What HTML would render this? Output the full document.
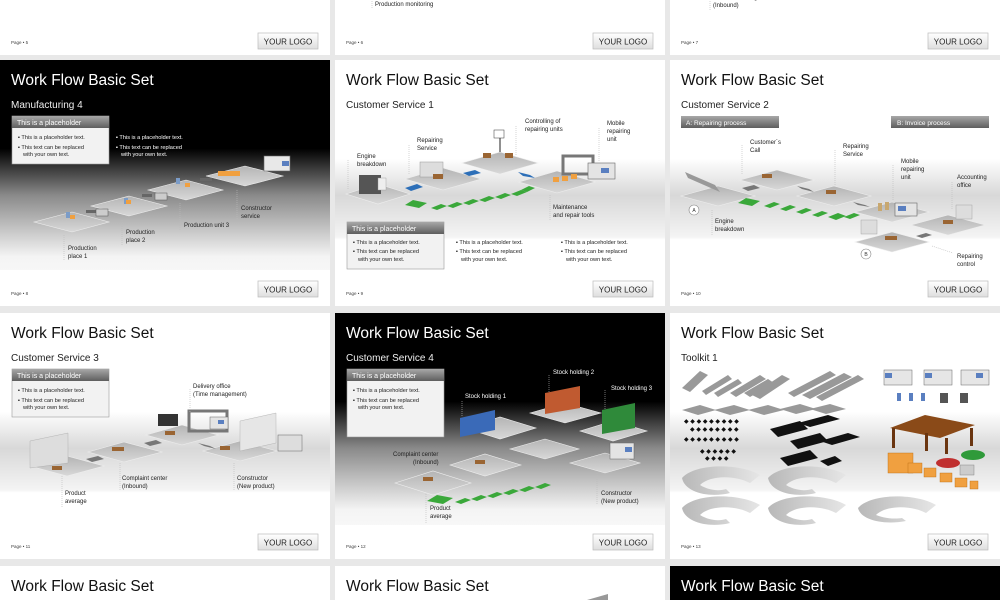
<!DOCTYPE html>
<html><head><meta charset="utf-8"><style>
html,body{margin:0;padding:0;background:#e8e8e8;width:1000px;height:600px;overflow:hidden;}
svg{display:block;font-family:"Liberation Sans",Arial,sans-serif;overflow:hidden;}
</style></head><body>
<svg width="1000" height="600" viewBox="0 0 1000 600" xmlns="http://www.w3.org/2000/svg">
<defs>
<clipPath id="pg"><rect width="1000" height="600"/></clipPath>
<linearGradient id="band" x1="0" y1="0" x2="0" y2="1">
<stop offset="0" stop-color="#fff"/><stop offset="0.4" stop-color="#fff"/><stop offset="0.55" stop-color="#d8d8d8"/><stop offset="0.72" stop-color="#f4f4f4"/><stop offset="0.73" stop-color="#fff"/><stop offset="1" stop-color="#fff"/>
</linearGradient>
<linearGradient id="dark" x1="0" y1="0" x2="0" y2="1">
<stop offset="0" stop-color="#000"/><stop offset="0.36" stop-color="#000"/><stop offset="0.55" stop-color="#8a8a8a"/><stop offset="0.8" stop-color="#f4f4f4"/><stop offset="1" stop-color="#fff"/>
</linearGradient>
<linearGradient id="hdr" x1="0" y1="0" x2="0" y2="1"><stop offset="0" stop-color="#a8a8a8"/><stop offset="1" stop-color="#5e5e5e"/></linearGradient>
<linearGradient id="logo" x1="0" y1="0" x2="0" y2="1"><stop offset="0" stop-color="#fff"/><stop offset="1" stop-color="#dedede"/></linearGradient>
<linearGradient id="tile" x1="0" y1="0" x2="0" y2="1"><stop offset="0" stop-color="#b4b4b4"/><stop offset="1" stop-color="#d8d8d8"/></linearGradient>
<linearGradient id="arc" x1="0" y1="0" x2="1" y2="0"><stop offset="0" stop-color="#b8b8b8"/><stop offset="1" stop-color="#e6e6e6"/></linearGradient>
</defs>
<g clip-path="url(#pg)">

<!-- ROW 1 (partial) -->
<g transform="translate(0,-191)">
<rect width="330" height="246" fill="#fff"/>
<text x="11" y="235" font-size="4.5" fill="#444">Page • 5</text>
<rect x="258" y="224" width="60" height="16" fill="url(#logo)" stroke="#bbb" stroke-width="0.7"/><text x="288" y="235.5" font-size="8" text-anchor="middle" fill="#222">YOUR LOGO</text>
</g>
<g transform="translate(335,-191)">
<rect width="330" height="246" fill="#fff"/>
<line x1="37" y1="188" x2="37" y2="200" stroke="#bbb" stroke-dasharray="1,1" stroke-width="0.6"/>
<text x="40" y="197" font-size="6" fill="#222">Production monitoring</text>
<text x="131" y="191" font-size="6" fill="#222">Production unit 4</text>
<text x="11" y="235" font-size="4.5" fill="#444">Page • 6</text>
<rect x="258" y="224" width="60" height="16" fill="url(#logo)" stroke="#bbb" stroke-width="0.7"/><text x="288" y="235.5" font-size="8" text-anchor="middle" fill="#222">YOUR LOGO</text>
</g>
<g transform="translate(670,-191)">
<rect width="330" height="246" fill="#fff"/>
<line x1="40" y1="186" x2="40" y2="202" stroke="#bbb" stroke-dasharray="1,1" stroke-width="0.6"/>
<text x="43" y="190" font-size="6" fill="#222">Product ordering</text>
<text x="43" y="198" font-size="6" fill="#222">(Inbound)</text>
<text x="11" y="235" font-size="4.5" fill="#444">Page • 7</text>
<rect x="258" y="224" width="60" height="16" fill="url(#logo)" stroke="#bbb" stroke-width="0.7"/><text x="288" y="235.5" font-size="8" text-anchor="middle" fill="#222">YOUR LOGO</text>
</g>

<!-- ROW 2 -->
<g transform="translate(0,60)">
<rect width="330" height="246" fill="url(#dark)"/>
<rect x="0" y="210" width="330" height="36" fill="#fff"/>
<text x="11" y="25" font-size="15.5" fill="#fff">Work Flow Basic Set</text>
<text x="11" y="48" font-size="10" fill="#eee">Manufacturing 4</text>
<rect x="12" y="56" width="97" height="48" fill="#f2f2f2" stroke="#999" stroke-width="0.6"/>
<rect x="12" y="56" width="97" height="12" fill="url(#hdr)"/>
<text x="17" y="65" font-size="7" fill="#fff">This is a placeholder</text>
<g font-size="5.6" fill="#222"><text x="18" y="79">▪  This is a placeholder text.</text><text x="18" y="89">▪  This text can be replaced</text><text x="23" y="96">with your own text.</text></g>
<g font-size="5.6" fill="#fff"><text x="116" y="79">▪  This is a placeholder text.</text><text x="116" y="89">▪  This text can be replaced</text><text x="121" y="96">with your own text.</text></g>
<g fill="url(#tile)" stroke="#eee" stroke-width="0.6">
<polygon points="34,162 72,152 109,162 72,172"/>
<polygon points="91,146 129,136 167,146 129,156"/>
<polygon points="148,130 186,120 223,130 186,140"/>
<polygon points="206,116 245,106 283,116 245,126"/>
</g>
<g fill="#666"><rect x="86" y="150" width="10" height="3"/><rect x="142" y="134" width="10" height="3"/><rect x="200" y="118" width="12" height="3"/></g>
<g fill="#7b9cc8"><rect x="66" y="152" width="4" height="6"/><rect x="124" y="138" width="4" height="6"/><rect x="176" y="118" width="4" height="6"/></g>
<g fill="#f0a040"><rect x="70" y="155" width="5" height="4"/><rect x="126" y="140" width="5" height="4"/><rect x="185" y="123" width="5" height="4"/><rect x="218" y="111" width="22" height="5"/></g>
<rect x="96" y="149" width="12" height="7" fill="#ccc" stroke="#555" stroke-width="0.5"/>
<rect x="155" y="133" width="12" height="7" fill="#ccc" stroke="#555" stroke-width="0.5"/>
<rect x="264" y="96" width="26" height="15" fill="#e8e8e8" stroke="#666" stroke-width="0.6"/><rect x="282" y="101" width="7" height="5" fill="#5a7fc0"/>
<g stroke="#bbb" stroke-dasharray="1,1" stroke-width="0.6"><line x1="64" y1="175" x2="64" y2="200"/><line x1="122" y1="160" x2="122" y2="185"/><line x1="180" y1="143" x2="180" y2="170"/><line x1="237" y1="130" x2="237" y2="160"/></g>
<g font-size="6" fill="#222"><text x="68" y="190">Production</text><text x="68" y="198">place 1</text><text x="126" y="174">Production</text><text x="126" y="182">place 2</text><text x="184" y="167">Production unit 3</text><text x="241" y="150">Constructor</text><text x="241" y="158">service</text></g>
<text x="11" y="235" font-size="4.5" fill="#444">Page • 8</text>
<rect x="258" y="221" width="60" height="16" fill="url(#logo)" stroke="#bbb" stroke-width="0.7"/><text x="288" y="232.5" font-size="8" text-anchor="middle" fill="#222">YOUR LOGO</text>
</g>

<g transform="translate(335,60)">
<rect width="330" height="246" fill="url(#band)"/>
<text x="11" y="25" font-size="15.5" fill="#111">Work Flow Basic Set</text>
<text x="11" y="48" font-size="10" fill="#222">Customer Service 1</text>
<g fill="url(#tile)" stroke="#eee" stroke-width="0.6">
<polygon points="11,134 43,124 75,134 43,144"/>
<polygon points="70,119 108,108 146,119 108,130"/>
<polygon points="127,103 165,92 203,103 165,114"/>
<polygon points="184,122 222,111 260,122 222,133"/>
</g>
<rect x="24" y="115" width="22" height="19" fill="#555"/><rect x="43" y="118" width="8" height="12" fill="#eee" stroke="#999" stroke-width="0.4"/>
<rect x="85" y="102" width="23" height="15" fill="#ddd" stroke="#999" stroke-width="0.5"/>
<rect x="98" y="114" width="10" height="5" fill="#9a6533"/>
<rect x="148" y="93" width="8" height="5" fill="#9a6533"/><rect x="170" y="93" width="8" height="5" fill="#9a6533"/>
<line x1="165" y1="75" x2="165" y2="92" stroke="#222" stroke-width="1"/><rect x="159" y="70" width="10" height="8" fill="#fff" stroke="#333" stroke-width="0.5"/>
<rect x="228" y="96" width="30" height="18" fill="none" stroke="#777" stroke-width="3"/>
<g fill="#f0a040"><rect x="218" y="117" width="6" height="5"/><rect x="227" y="116" width="6" height="5"/><rect x="236" y="114" width="6" height="5"/></g>
<rect x="253" y="103" width="27" height="16" fill="#e4e4e4" stroke="#666" stroke-width="0.6"/><rect x="266" y="108" width="8" height="5" fill="#5a7fc0"/>
<g fill="#2d6fb8"><polygon points="70,128 82,124 88,127 76,131"/><polygon points="128,113 140,110 146,113 134,116"/><polygon points="183,112 195,115 200,118 188,116"/></g>
<g fill="#3aa83a"><polygon points="70,145 78,140 92,143 84,148"/>
<polygon points="96,148 106,144 112,146 102,150"/><polygon points="112,146 122,142 128,144 118,148"/><polygon points="128,143 138,139 144,141 134,145"/><polygon points="144,140 154,136 160,138 150,142"/><polygon points="160,137 170,133 176,135 166,139"/><polygon points="176,134 186,130 192,132 182,136"/><polygon points="186,130 194,126 200,128 192,132"/></g>
<g stroke="#bbb" stroke-dasharray="1,1" stroke-width="0.6"><line x1="13" y1="100" x2="13" y2="130"/><line x1="74" y1="85" x2="74" y2="115"/><line x1="181" y1="66" x2="181" y2="95"/><line x1="264" y1="68" x2="264" y2="102"/><line x1="215" y1="135" x2="215" y2="160"/></g>
<g font-size="6" fill="#222"><text x="22" y="98">Engine</text><text x="22" y="106">breakdown</text><text x="82" y="82">Repairing</text><text x="82" y="90">Service</text><text x="190" y="63">Controlling of</text><text x="190" y="71">repairing units</text><text x="272" y="65">Mobile</text><text x="272" y="73">repairing</text><text x="272" y="81">unit</text><text x="218" y="149">Maintenance</text><text x="218" y="157">and repair tools</text></g>
<rect x="12" y="162" width="97" height="47" fill="#f2f2f2" stroke="#999" stroke-width="0.6"/>
<rect x="12" y="162" width="97" height="12" fill="url(#hdr)"/>
<text x="17" y="171" font-size="7" fill="#fff">This is a placeholder</text>
<g font-size="5.6" fill="#222"><text x="18" y="184">▪  This is a placeholder text.</text><text x="18" y="193">▪  This text can be replaced</text><text x="23" y="201">with your own text.</text>
<text x="121" y="184">▪  This is a placeholder text.</text><text x="121" y="193">▪  This text can be replaced</text><text x="126" y="201">with your own text.</text>
<text x="226" y="184">▪  This is a placeholder text.</text><text x="226" y="193">▪  This text can be replaced</text><text x="231" y="201">with your own text.</text></g>
<text x="11" y="235" font-size="4.5" fill="#444">Page • 9</text>
<rect x="258" y="221" width="60" height="16" fill="url(#logo)" stroke="#bbb" stroke-width="0.7"/><text x="288" y="232.5" font-size="8" text-anchor="middle" fill="#222">YOUR LOGO</text>
</g>

<g transform="translate(670,60)">
<rect width="330" height="246" fill="url(#band)"/>
<text x="11" y="25" font-size="15.5" fill="#111">Work Flow Basic Set</text>
<text x="11" y="48" font-size="10" fill="#222">Customer Service 2</text>
<rect x="11" y="56" width="98" height="12" fill="url(#hdr)"/><text x="16" y="65" font-size="6.5" fill="#fff">A: Repairing process</text>
<rect x="221" y="56" width="98" height="12" fill="url(#hdr)"/><text x="227" y="65" font-size="6.5" fill="#fff">B: Invoice process</text>
<g fill="url(#tile)" stroke="#eee" stroke-width="0.6">
<polygon points="11,136 48,126 85,136 48,146"/>
<polygon points="70,120 107,110 144,120 107,130"/>
<polygon points="127,136 164,126 201,136 164,146"/>
<polygon points="185,152 222,142 259,152 222,162"/>
<polygon points="241,165 278,155 315,165 278,175"/>
<polygon points="185,182 222,172 259,182 222,192"/>
</g>
<polygon points="15,112 45,125 50,132 18,118" fill="#999"/>
<g fill="#9a6533"><rect x="92" y="114" width="10" height="4"/><rect x="156" y="130" width="10" height="4"/><rect x="273" y="160" width="10" height="4"/><rect x="215" y="176" width="12" height="4"/></g>
<rect x="225" y="143" width="22" height="13" fill="#e4e4e4" stroke="#666" stroke-width="0.6"/><rect x="228" y="146" width="8" height="5" fill="#5a7fc0"/>
<g fill="#c8a870"><rect x="208" y="143" width="4" height="8"/><rect x="215" y="142" width="4" height="8"/></g>
<rect x="191" y="160" width="16" height="14" fill="#ddd" stroke="#999" stroke-width="0.4"/>
<rect x="286" y="145" width="16" height="14" fill="#ddd" stroke="#999" stroke-width="0.4"/>
<g fill="#777"><polygon points="72,128 84,125 90,128 78,131"/><polygon points="127,126 139,129 144,132 132,129"/><polygon points="183,142 195,145 200,147 188,145"/><polygon points="246,176 256,173 262,175 252,178"/></g>
<g fill="#3aa83a"><polygon points="68,143 76,138 90,141 82,146"/><polygon points="94,146 104,142 110,144 100,148"/><polygon points="110,149 120,145 126,147 116,151"/><polygon points="126,152 136,148 142,150 132,154"/><polygon points="142,155 152,151 158,153 148,157"/><polygon points="158,157 168,153 176,156 166,160"/><polygon points="174,157 184,153 190,155 180,159"/></g>
<circle cx="24" cy="150" r="5" fill="#fff" stroke="#888" stroke-width="0.6"/><text x="24" y="152" font-size="5" text-anchor="middle" fill="#333">A</text>
<circle cx="196" cy="194" r="5" fill="#fff" stroke="#888" stroke-width="0.6"/><text x="196" y="196" font-size="5" text-anchor="middle" fill="#333">B</text>
<g stroke="#bbb" stroke-dasharray="1,1" stroke-width="0.6"><line x1="72" y1="85" x2="72" y2="115"/><line x1="165" y1="90" x2="165" y2="125"/><line x1="223" y1="105" x2="223" y2="140"/><line x1="282" y1="122" x2="282" y2="150"/><line x1="42" y1="150" x2="42" y2="175"/><line x1="262" y1="186" x2="283" y2="193"/></g>
<g font-size="6" fill="#222"><text x="80" y="84">Customer´s</text><text x="80" y="92">Call</text><text x="173" y="88">Repairing</text><text x="173" y="96">Service</text><text x="231" y="103">Mobile</text><text x="231" y="111">repairing</text><text x="231" y="119">unit</text><text x="287" y="119">Accounting</text><text x="287" y="127">office</text><text x="45" y="163">Engine</text><text x="45" y="171">breakdown</text><text x="287" y="198">Repairing</text><text x="287" y="206">control</text></g>
<text x="11" y="235" font-size="4.5" fill="#444">Page • 10</text>
<rect x="258" y="221" width="60" height="16" fill="url(#logo)" stroke="#bbb" stroke-width="0.7"/><text x="288" y="232.5" font-size="8" text-anchor="middle" fill="#222">YOUR LOGO</text>
</g>

<!-- ROW 3 -->
<g transform="translate(0,313)">
<rect width="330" height="246" fill="url(#band)"/>
<text x="11" y="25" font-size="15.5" fill="#111">Work Flow Basic Set</text>
<text x="11" y="48" font-size="10" fill="#222">Customer Service 3</text>
<rect x="12" y="56" width="97" height="48" fill="#f2f2f2" stroke="#999" stroke-width="0.6"/>
<rect x="12" y="56" width="97" height="12" fill="url(#hdr)"/>
<text x="17" y="65" font-size="7" fill="#fff">This is a placeholder</text>
<g font-size="5.6" fill="#222"><text x="18" y="79">▪  This is a placeholder text.</text><text x="18" y="89">▪  This text can be replaced</text><text x="23" y="96">with your own text.</text></g>
<g fill="url(#tile)" stroke="#eee" stroke-width="0.6">
<polygon points="30,153 67,143 104,153 67,163"/>
<polygon points="88,139 124,129 162,139 124,149"/>
<polygon points="146,122 182,112 218,122 182,132"/>
<polygon points="203,138 240,128 277,138 240,148"/>
</g>
<polygon points="30,128 68,120 68,150 30,155" fill="#ddd" stroke="#aaa" stroke-width="0.4"/>
<rect x="158" y="101" width="20" height="12" fill="#333"/>
<rect x="189" y="98" width="38" height="20" fill="none" stroke="#777" stroke-width="3"/>
<rect x="210" y="104" width="18" height="12" fill="#e4e4e4" stroke="#666" stroke-width="0.5"/><rect x="218" y="107" width="6" height="4" fill="#5a7fc0"/>
<polygon points="240,108 276,100 276,130 240,138" fill="#e6e6e6" stroke="#aaa" stroke-width="0.4"/>
<rect x="278" y="122" width="24" height="16" fill="#ddd" stroke="#666" stroke-width="0.5"/>
<g fill="#9a6533"><rect x="52" y="153" width="10" height="4"/><rect x="112" y="134" width="12" height="4"/><rect x="165" y="118" width="10" height="4"/><rect x="220" y="133" width="10" height="4"/></g>
<g fill="#777"><polygon points="86,146 98,143 104,146 92,149"/><polygon points="144,130 156,127 162,130 150,133"/><polygon points="198,130 210,133 216,136 204,133"/></g>
<g stroke="#bbb" stroke-dasharray="1,1" stroke-width="0.6"><line x1="62" y1="163" x2="62" y2="195"/><line x1="120" y1="150" x2="120" y2="178"/><line x1="234" y1="150" x2="234" y2="178"/><line x1="190" y1="76" x2="190" y2="100"/></g>
<g font-size="6" fill="#222"><text x="65" y="182">Product</text><text x="65" y="190">average</text><text x="122" y="167">Complaint center</text><text x="122" y="175">(Inbound)</text><text x="237" y="167">Constructor</text><text x="237" y="175">(New product)</text><text x="193" y="75">Delivery office</text><text x="193" y="83">(Time management)</text></g>
<text x="11" y="235" font-size="4.5" fill="#444">Page • 11</text>
<rect x="258" y="221" width="60" height="16" fill="url(#logo)" stroke="#bbb" stroke-width="0.7"/><text x="288" y="232.5" font-size="8" text-anchor="middle" fill="#222">YOUR LOGO</text>
</g>

<g transform="translate(335,313)">
<rect width="330" height="246" fill="url(#dark)"/>
<rect x="0" y="212" width="330" height="34" fill="#fff"/>
<text x="11" y="25" font-size="15.5" fill="#fff">Work Flow Basic Set</text>
<text x="11" y="48" font-size="10" fill="#eee">Customer Service 4</text>
<rect x="12" y="56" width="97" height="68" fill="#f2f2f2" stroke="#999" stroke-width="0.6"/>
<rect x="12" y="56" width="97" height="12" fill="url(#hdr)"/>
<text x="17" y="65" font-size="7" fill="#fff">This is a placeholder</text>
<g font-size="5.6" fill="#222"><text x="18" y="79">▪  This is a placeholder text.</text><text x="18" y="89">▪  This text can be replaced</text><text x="23" y="96">with your own text.</text></g>
<g fill="url(#tile)" stroke="#eee" stroke-width="0.6">
<polygon points="60,170 98,158 136,170 98,182"/>
<polygon points="115,152 150,141 186,152 150,163"/>
<polygon points="130,115 165,104 201,115 165,126"/>
<polygon points="175,136 210,126 244,136 210,146"/>
<polygon points="195,100 230,90 266,100 230,110"/>
<polygon points="245,118 278,108 312,118 278,128"/>
<polygon points="235,150 270,140 305,150 270,160"/>
</g>
<polygon points="125,105 160,97 160,117 125,124" fill="#3a6ab8"/>
<polygon points="210,80 245,73 245,95 210,101" fill="#c05a30"/>
<polygon points="267,97 300,90 300,115 267,121" fill="#2f8a3a"/>
<rect x="275" y="130" width="24" height="16" fill="#e4e4e4" stroke="#666" stroke-width="0.5"/><rect x="290" y="134" width="7" height="5" fill="#5a7fc0"/>
<g fill="#9a6533"><rect x="88" y="164" width="10" height="4"/><rect x="140" y="147" width="10" height="4"/></g>
<g fill="#3aa83a"><polygon points="92,188 102,182 118,185 108,191"/><polygon points="120,189 130,185 136,187 126,191"/><polygon points="136,186 146,182 152,184 142,188"/><polygon points="152,183 162,179 168,181 158,185"/><polygon points="168,180 178,176 184,178 174,182"/><polygon points="184,177 194,173 200,175 190,179"/><polygon points="200,174 210,170 216,172 206,176"/></g>
<g stroke="#bbb" stroke-dasharray="1,1" stroke-width="0.6"><line x1="91" y1="181" x2="91" y2="210"/><line x1="262" y1="160" x2="262" y2="192"/><line x1="127" y1="88" x2="127" y2="103"/><line x1="214" y1="62" x2="214" y2="80"/><line x1="270" y1="77" x2="270" y2="97"/></g>
<g font-size="6" fill="#fff"><text x="130" y="85">Stock holding 1</text><text x="218" y="61">Stock holding 2</text><text x="276" y="77">Stock holding 3</text></g>
<g font-size="6" fill="#222"><text x="58" y="143">Complaint center</text><text x="78" y="151">(Inbound)</text><text x="266" y="182">Constructor</text><text x="266" y="190">(New product)</text><text x="95" y="197">Product</text><text x="95" y="205">average</text></g>
<text x="11" y="235" font-size="4.5" fill="#444">Page • 12</text>
<rect x="258" y="221" width="60" height="16" fill="url(#logo)" stroke="#bbb" stroke-width="0.7"/><text x="288" y="232.5" font-size="8" text-anchor="middle" fill="#222">YOUR LOGO</text>
</g>

<g transform="translate(670,313)">
<rect width="330" height="246" fill="url(#band)"/>
<text x="11" y="25" font-size="15.5" fill="#111">Work Flow Basic Set</text>
<text x="11" y="48" font-size="10" fill="#222">Toolkit 1</text>
<g fill="#999">
<polygon points="12,75 30,58 38,62 20,79"/>
<polygon points="32,78 58,62 62,66 36,82"/><polygon points="44,80 68,66 72,70 48,84"/><polygon points="60,80 90,62 96,66 66,84"/><polygon points="74,80 98,66 104,70 80,84"/><polygon points="82,82 112,62 120,66 90,86"/><polygon points="118,80 160,58 166,62 124,84"/><polygon points="132,82 174,60 182,64 140,86"/><polygon points="146,84 188,62 194,66 152,88"/>
<polygon points="12,97 30,92 46,97 28,102"/><polygon points="44,97 64,92 80,97 60,102"/><polygon points="78,97 98,92 114,97 94,102"/><polygon points="110,96 130,91 146,96 126,101"/><polygon points="140,96 160,91 176,96 156,101"/>
</g>
<g fill="#111">
<polygon points="100,116 130,108 138,116 108,124"/><polygon points="120,128 150,120 158,128 128,136"/><polygon points="110,145 140,137 148,145 118,153"/><polygon points="150,148 165,143 172,148 158,153"/>
<polygon points="128,110 158,102 170,106 140,114"/><polygon points="150,128 178,120 190,124 162,132"/>
</g>
<g fill="#111" font-size="6"><text x="14" y="110">◆ ◆ ◆ ◆ ◆ ◆ ◆ ◆ ◆</text><text x="20" y="118">◆ ◆ ◆ ◆ ◆ ◆ ◆ ◆</text><text x="14" y="128">◆ ◆ ◆ ◆ ◆ ◆ ◆ ◆ ◆</text><text x="30" y="140">◆ ◆ ◆ ◆ ◆ ◆</text><text x="35" y="147">◆ ◆ ◆ ◆</text></g>
<g fill="url(#arc)">
<path d="M12,165 C25,150 70,150 90,162 L80,170 C65,162 40,162 30,172 C40,178 50,178 56,176 L60,180 C40,185 15,180 12,165Z"/>
<path d="M98,165 C111,150 156,150 176,162 L166,170 C151,162 126,162 116,172 C126,178 136,178 142,176 L146,180 C126,185 101,180 98,165Z"/>
<path d="M12,195 C25,180 70,180 90,192 L80,200 C65,192 40,192 30,202 C40,208 50,208 56,206 L60,210 C40,215 15,210 12,195Z"/>
<path d="M98,195 C111,180 156,180 176,192 L166,200 C151,192 126,192 116,202 C126,208 136,208 142,206 L146,210 C126,215 101,210 98,195Z"/>
<path d="M188,195 C201,180 246,180 266,192 L256,200 C241,192 216,192 206,202 C216,206 226,206 232,205 L236,208 C216,212 191,208 188,195Z"/>
</g>
<g fill="#e6e6e6" stroke="#666" stroke-width="0.5"><rect x="214" y="57" width="28" height="15"/><rect x="254" y="57" width="28" height="15"/><rect x="291" y="57" width="28" height="15"/></g>
<g fill="#5a7fc0"><rect x="215" y="60" width="7" height="5"/><rect x="255" y="60" width="7" height="5"/><rect x="306" y="60" width="7" height="5"/></g>
<g fill="#5a7fc0"><rect x="227" y="80" width="4" height="8"/><rect x="239" y="80" width="4" height="8"/><rect x="251" y="80" width="4" height="8"/></g>
<g fill="#555"><rect x="270" y="80" width="8" height="10"/><rect x="290" y="80" width="8" height="10"/></g>
<polygon points="220,115 255,102 305,112 270,125" fill="#8a4a18"/>
<g fill="#6a3510"><rect x="222" y="115" width="3" height="20"/><rect x="255" y="120" width="3" height="18"/><rect x="275" y="125" width="3" height="16"/><rect x="300" y="115" width="3" height="18"/></g>
<g fill="#f0a040" stroke="#b86a10" stroke-width="0.4"><rect x="218" y="140" width="25" height="20"/><rect x="238" y="150" width="14" height="10"/><rect x="254" y="155" width="12" height="9"/><rect x="270" y="160" width="12" height="9"/><rect x="285" y="165" width="12" height="9"/><rect x="300" y="168" width="8" height="8"/></g>
<ellipse cx="278" cy="150" rx="12" ry="5" fill="#c03030"/><ellipse cx="303" cy="142" rx="12" ry="5" fill="#2f9a3a"/>
<rect x="290" y="152" width="14" height="10" fill="#ccc" stroke="#777" stroke-width="0.4"/>
<text x="11" y="235" font-size="4.5" fill="#444">Page • 13</text>
<rect x="258" y="221" width="60" height="16" fill="url(#logo)" stroke="#bbb" stroke-width="0.7"/><text x="288" y="232.5" font-size="8" text-anchor="middle" fill="#222">YOUR LOGO</text>
</g>

<!-- ROW 4 (partial) -->
<g transform="translate(0,566)"><rect width="330" height="34" fill="#fff"/><text x="11" y="25" font-size="15.5" fill="#111">Work Flow Basic Set</text></g>
<g transform="translate(335,566)"><rect width="330" height="34" fill="#fff"/><text x="11" y="25" font-size="15.5" fill="#111">Work Flow Basic Set</text><polygon points="252,34 273,28 273,34" fill="#999"/></g>
<g transform="translate(670,566)"><rect width="330" height="34" fill="#000"/><text x="11" y="25" font-size="15.5" fill="#fff">Work Flow Basic Set</text></g>
</g>
</svg>
</body></html>
